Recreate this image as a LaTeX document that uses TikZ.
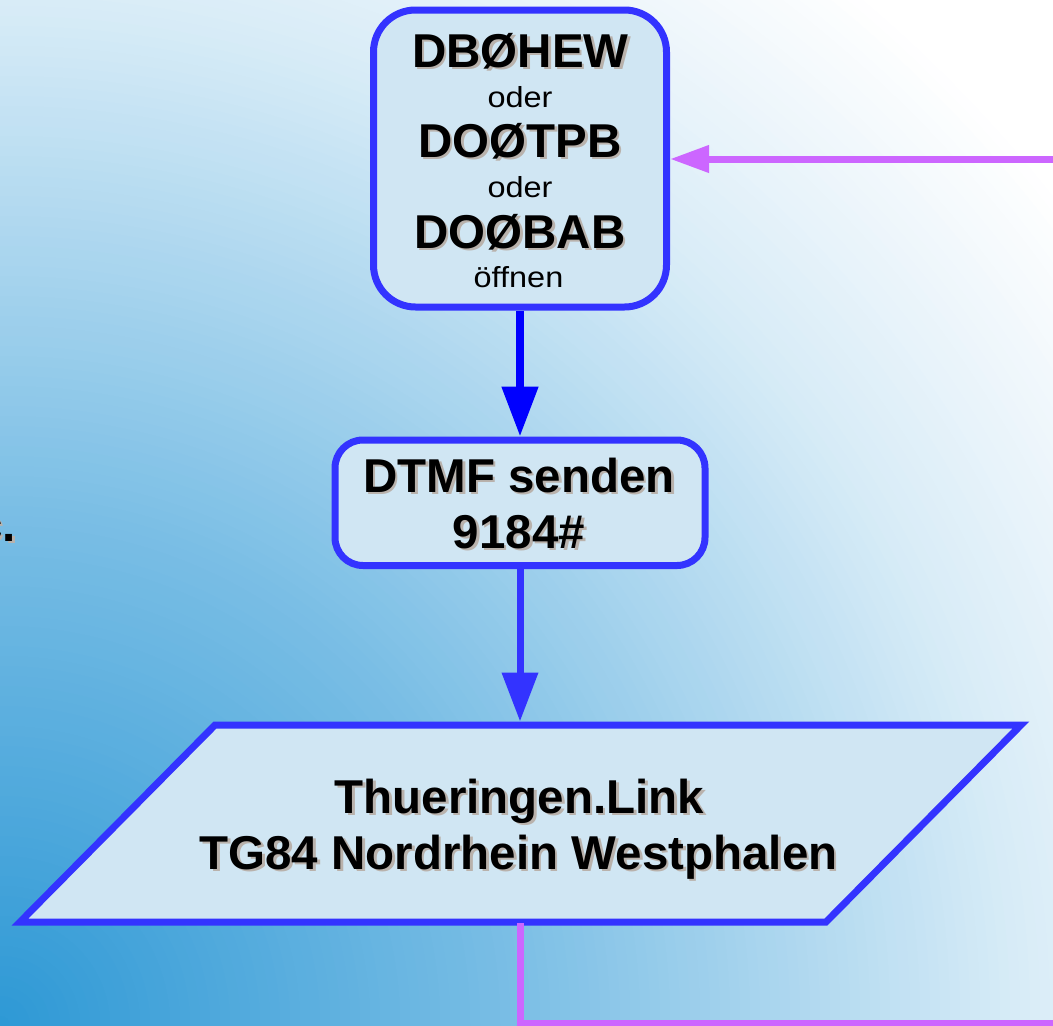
\documentclass[tikz,border=0pt]{standalone}
\usepackage{fontspec}
\setmainfont{Liberation Sans}
\newfontfamily\widefam[FakeStretch=1.12]{Liberation Sans}
\usetikzlibrary{arrows.meta}
\definecolor{gA}{RGB}{45,152,213}
\definecolor{gB}{RGB}{122,190,229}
\definecolor{gC}{RGB}{216,236,247}
\definecolor{gD}{RGB}{232,243,250}
\definecolor{bord}{RGB}{51,51,255}
\definecolor{arrowblue}{RGB}{0,0,255}
\definecolor{boxfill}{RGB}{208,230,243}
\definecolor{pinkc}{RGB}{204,102,255}
\definecolor{shadowc}{RGB}{185,178,172}
\newcommand\shd[1]{\makebox[0pt][l]{\hspace{2.5pt}\raisebox{-2.5pt}{\color{shadowc}#1}}#1}
\newcommand\bigf{\fontsize{47.5}{57}\selectfont\bfseries}
\newcommand\smallf{\widefam\fontsize{29}{34}\selectfont}
\tikzset{
  boxr/.style={rectangle, draw=bord, line width=7pt, fill=boxfill, inner sep=0pt},
  txt/.style={inner sep=0pt, text=black},
  flowA/.style={draw=arrowblue, line width=8pt, -{Triangle[width=35pt,length=50pt]}},
  flowB/.style={draw=bord, line width=7pt, -{Triangle[width=35pt,length=49pt]}},
  backline/.style={draw=pinkc, line width=7pt, -{Triangle[width=26pt,length=39pt]}},
}
\begin{document}
\begin{tikzpicture}[x=1pt,y=-1pt]
\useasboundingbox (0,0) rectangle (1053,1026);
\clip (0,0) rectangle (1053,1026);
% background: radial gradient from the bottom-left corner
\fill[white] (0,0) rectangle (1053,1026);
\foreach \rv in {1480,1470,...,10}{
  \ifdim\rv pt<520pt
    \pgfmathsetmacro\pv{\rv/520*100}\colorlet{cc}{gB!\pv!gA}
  \else\ifdim\rv pt<1026pt
    \pgfmathsetmacro\pv{(\rv-520)/506*100}\colorlet{cc}{gC!\pv!gB}
  \else\ifdim\rv pt<1150pt
    \pgfmathsetmacro\pv{(\rv-1026)/124*100}\colorlet{cc}{gD!\pv!gC}
  \else
    \pgfmathsetmacro\pv{min((\rv-1150)/200*100,100)}\colorlet{cc}{white!\pv!gD}
  \fi\fi\fi
  \fill[cc] (0,1026) circle[radius=\rv];
}
% fragment at left edge
\node[txt, anchor=base east] (frag) at (16,541) {\bigf\shd{c.}};
% box 1
\node[boxr, minimum width=293pt, minimum height=297pt, rounded corners=42pt] (b1) at (520,158.5) {};
\node[txt, anchor=base] (l1) at (520.5,67) {\bigf\shd{DBØHEW}};
\node[txt, anchor=base] (l2) at (520,107) {\smallf oder};
\node[txt, anchor=base] (l3) at (520,157) {\bigf\shd{DOØTPB}};
\node[txt, anchor=base] (l4) at (520,197) {\smallf oder};
\node[txt, anchor=base] (l5) at (520,248) {\bigf\shd{DOØBAB}};
\node[txt, anchor=base] (l6) at (518.5,287) {\smallf öffnen};
% box 2
\node[boxr, minimum width=370pt, minimum height=125.5pt, rounded corners=28pt] (b2) at (520,502.75) {};
\node[txt, anchor=base] (m1) at (519,492) {\bigf\shd{DTMF senden}};
\node[txt, anchor=base] (m2) at (519,548) {\bigf\shd{9184\#}};
% parallelogram
\draw[draw=bord, fill=boxfill, line width=7pt, line join=miter] (215,725) -- (1021,725) -- (826,922) -- (20,922) -- cycle;
\coordinate (ptop) at (520,721.5);
\coordinate (pbot) at (520,923);
\node[txt, anchor=base] (p1) at (519.5,813) {\bigf\shd{Thueringen.Link}};
\node[txt, anchor=base] (p2) at (518.5,869) {\bigf\shd{TG84 Nordrhein Westphalen}};
% connectors
\draw[flowA] (b1.south) -- (b2.north);
\draw[flowB] (b2.south) -- (ptop);
\coordinate (pr1) at (1100,1023);
\coordinate (pr2) at (1100,159);
\draw[backline] (pbot) |- (pr1) -- (pr2) -- (pr2 -| b1.east);
\end{tikzpicture}
\end{document}
